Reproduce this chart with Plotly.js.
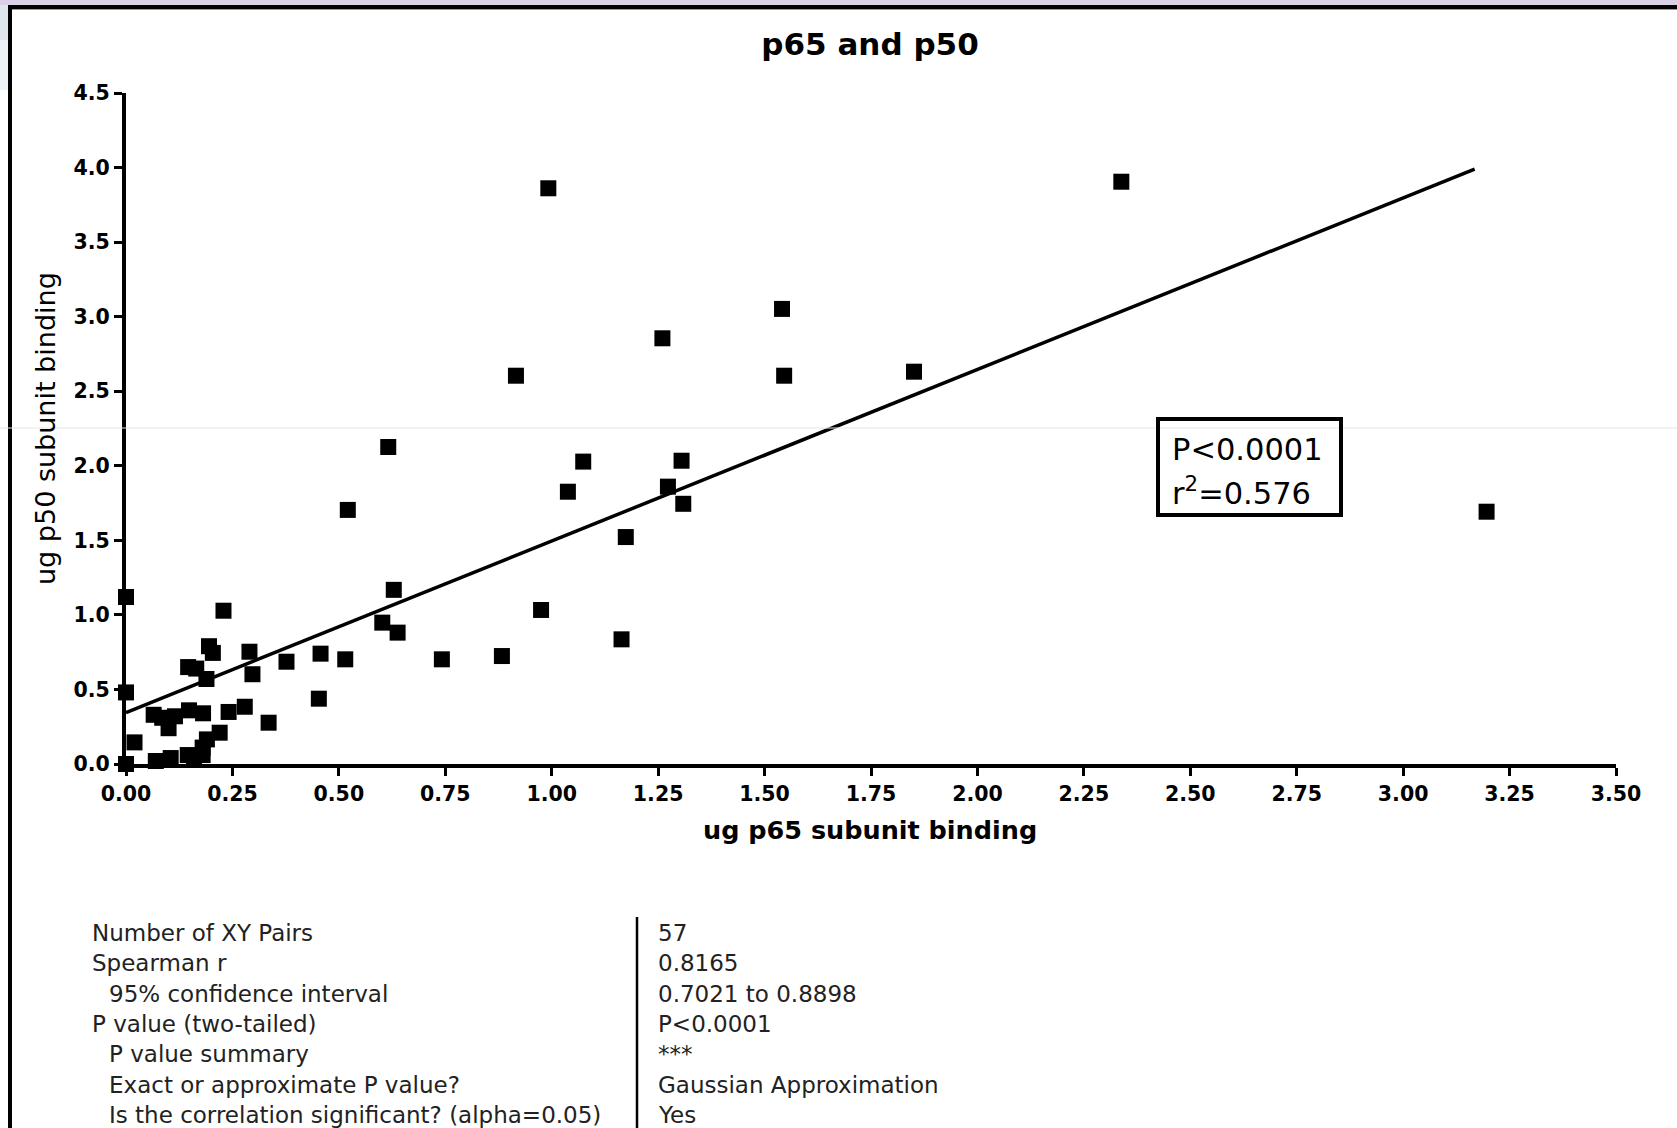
<!DOCTYPE html>
<html><head><meta charset="utf-8">
<script src="https://cdn.plot.ly/plotly-3.0.1.min.js"></script>
<style>html,body{margin:0;padding:0;background:#fff;overflow:hidden}#chart{width:1677px;height:1128px;}</style>
</head><body><div id="chart"></div>
<script>
// ---- data ----
const p65 = [0.000,0.000,0.000,0.020,0.070,0.105,0.065,0.100,0.115,0.148,0.145,0.146,0.165,0.181,0.180,0.190,0.195,0.204,0.189,0.180,0.220,0.229,0.241,0.279,0.290,0.297,0.335,0.377,0.453,0.457,0.515,0.521,0.602,0.616,0.629,0.638,0.742,0.883,0.916,0.975,0.992,1.038,1.074,1.164,1.174,1.260,1.273,1.305,1.309,1.541,1.546,1.851,2.338,3.196,0.000,0.160,0.085];
const p50 = [0.000,1.120,0.480,0.145,0.020,0.040,0.330,0.240,0.320,0.360,0.060,0.650,0.640,0.340,0.060,0.165,0.790,0.745,0.570,0.110,0.210,1.028,0.349,0.384,0.753,0.602,0.277,0.686,0.438,0.740,0.702,1.704,0.948,2.126,1.168,0.881,0.702,0.724,2.604,1.033,3.861,1.826,2.028,0.836,1.522,2.855,1.860,2.034,1.745,3.052,2.604,2.631,3.905,1.692,0.000,0.050,0.310];
const fitX = [0.0, 3.168];
const fitY = [0.345, 3.99];
const xTickVals = [0,0.25,0.5,0.75,1,1.25,1.5,1.75,2,2.25,2.5,2.75,3,3.25,3.5];
const xTickText = ['0.00','0.25','0.50','0.75','1.00','1.25','1.50','1.75','2.00','2.25','2.50','2.75','3.00','3.25','3.50'];
const yTickVals = [0,0.5,1,1.5,2,2.5,3,3.5,4,4.5];
const yTickText = ['0.0','0.5','1.0','1.5','2.0','2.5','3.0','3.5','4.0','4.5'];
const chartTitle = 'p65 and p50';
const xTitle = 'ug p65 subunit binding';
const yTitle = 'ug p50 subunit binding';
const fitStats = ['P<0.0001', 'r<sup>2</sup>=0.576'];
const statLabels = ['Number of XY Pairs','Spearman r','  95% confidence interval','P value (two-tailed)','  P value summary','  Exact or approximate P value?','  Is the correlation significant? (alpha=0.05)'];
const statValues = ['57','0.8165','0.7021 to 0.8898','P<0.0001','***','Gaussian Approximation','Yes'];

// ---- geometry (pixels) ----
const W = 1677, H = 1128;
const L = 126, R = 1616, T = 93, B = 764;
const px = v => (v - L) / (R - L);
const py = v => (B - v) / (B - T);
const FONT = 'DejaVu Sans';

const shapes = [];
function rectPx(x0, y0, x1, y1, fill) {
  shapes.push({type:'rect', xref:'paper', yref:'paper', x0:px(x0), x1:px(x1), y0:py(y1), y1:py(y0),
    fillcolor:fill, line:{width:0}, layer:'below'});
}
// window frame
rectPx(0, 0, W, 5, '#dccfe8');
rectPx(8, 5, W, 9, '#000000');
rectPx(12, 9, W, 10, '#9a9a9a');
rectPx(0, 5, 8, 40, '#dfe5ec');
rectPx(0, 40, 8, 90, '#eef1f5');
rectPx(8, 5, 12, H, '#000000');
// faint scan line
shapes.push({type:'line', xref:'paper', yref:'paper', x0:px(0), x1:px(W), y0:py(428), y1:py(428),
  line:{color:'#e6e6e6', width:1}, layer:'above'});
// stats box
shapes.push({type:'rect', xref:'paper', yref:'paper', x0:px(1158), x1:px(1341), y0:py(515), y1:py(419),
  fillcolor:'rgba(255,255,255,0)', line:{color:'#000', width:4}, layer:'above'});
// table divider
shapes.push({type:'line', xref:'paper', yref:'paper', x0:px(637), x1:px(637), y0:py(917), y1:py(H),
  line:{color:'#000', width:2.5}});

const annotations = [];
annotations.push({xref:'paper', yref:'paper', x:px(870), y:py(830), text:xTitle, showarrow:false,
  xanchor:'center', yanchor:'middle', font:{family:FONT, size:25.5, color:'#000', weight:'bold'}});
annotations.push({xref:'paper', yref:'paper', x:px(46), y:py(429), text:yTitle, showarrow:false, textangle:-90,
  xanchor:'center', yanchor:'middle', font:{family:FONT, size:27, color:'#000'}});
fitStats.forEach((t, i) => {
  annotations.push({xref:'paper', yref:'paper', x:px(1170), y:py(449 + i*42), text:t, showarrow:false,
    xanchor:'left', yanchor:'middle', font:{family:FONT, size:30.5, color:'#000'}});
});
statLabels.forEach((t, i) => {
  const indent = t.startsWith('  ') ? 17 : 0;
  const yy = 933 + i*30.3;
  annotations.push({xref:'paper', yref:'paper', x:px(90 + indent), y:py(yy), text:t.trim(), showarrow:false,
    xanchor:'left', yanchor:'middle', font:{family:FONT, size:23, color:'#222'}});
  annotations.push({xref:'paper', yref:'paper', x:px(656), y:py(yy), text:statValues[i], showarrow:false,
    xanchor:'left', yanchor:'middle', font:{family:FONT, size:23, color:'#222'}});
});

const traces = [
  {x:p65, y:p50, type:'scatter', mode:'markers', cliponaxis:false,
   marker:{symbol:'square', size:16, color:'#000', line:{width:0}}, hoverinfo:'x+y'},
  {x:fitX, y:fitY, type:'scatter', mode:'lines', cliponaxis:false,
   line:{color:'#000', width:3.5}, hoverinfo:'skip'}
];

const tickFont = {family:FONT, size:20.5, color:'#000', weight:'bold'};
const layout = {
  width:W, height:H, showlegend:false,
  paper_bgcolor:'#fff', plot_bgcolor:'#fff',
  margin:{l:L, r:W-R, t:T, b:H-B, pad:0},
  title:{text:chartTitle, xref:'container', yref:'container', x:870/W, xanchor:'center', y:1-44/H, yanchor:'middle',
    font:{family:FONT, size:31, color:'#000', weight:'bold'}},
  xaxis:{range:[0,3.5], tickvals:xTickVals, ticktext:xTickText, showgrid:false, zeroline:false,
    showline:true, linecolor:'#000', linewidth:4, ticks:'outside', ticklen:8, tickwidth:3, tickcolor:'#000',
    tickfont:tickFont, automargin:false, fixedrange:true},
  yaxis:{range:[0,4.5], tickvals:yTickVals, ticktext:yTickText, showgrid:false, zeroline:false,
    showline:true, linecolor:'#000', linewidth:4, ticks:'outside', ticklen:8, tickwidth:3, tickcolor:'#000',
    tickfont:tickFont, automargin:false, fixedrange:true},
  shapes:shapes, annotations:annotations
};
Plotly.newPlot('chart', traces, layout, {displayModeBar:false, staticPlot:true});
</script>
</body></html>
